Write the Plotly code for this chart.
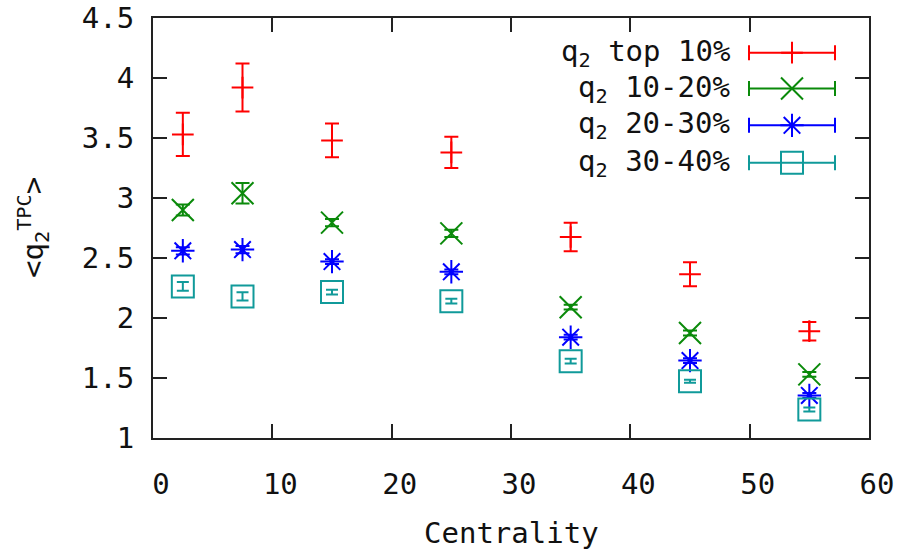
import plotly.graph_objects as go

# Centrality bins (%) and mean q2 (TPC) per q2 class, with statistical errors
centrality = [2.5, 7.5, 15, 25, 35, 45, 55]

q2_top10 = [3.53, 3.92, 3.48, 3.38, 2.675, 2.365, 1.89]
q2_top10_err = [0.18, 0.20, 0.14, 0.13, 0.118, 0.10, 0.077]

q2_10_20 = [2.90, 3.04, 2.795, 2.705, 2.09, 1.875, 1.53]
q2_10_20_err = [0.045, 0.085, 0.03, 0.03, 0.02, 0.02, 0.02]

q2_20_30 = [2.56, 2.57, 2.47, 2.385, 1.84, 1.645, 1.355]
q2_20_30_err = [0.03, 0.03, 0.02, 0.02, 0.02, 0.02, 0.02]

q2_30_40 = [2.263, 2.18, 2.216, 2.14, 1.64, 1.473, 1.237]
q2_30_40_err = [0.036, 0.035, 0.02, 0.02, 0.02, 0.012, 0.017]

labels = ["q<sub>2</sub> top 10%", "q<sub>2</sub> 10-20%",
          "q<sub>2</sub> 20-30%", "q<sub>2</sub> 30-40%"]

x_ticks = [0, 10, 20, 30, 40, 50, 60]
y_ticks = [1, 1.5, 2, 2.5, 3, 3.5, 4, 4.5]
y_tick_text = ["1", "1.5", "2", "2.5", "3", "3.5", "4", "4.5"]

FONT = "DejaVu Sans Mono"
FS = 29

styles = [
    dict(color="#ff0000", symbol="cross-thin", size=15.5, cap=7),
    dict(color="#0a8a0a", symbol="x-thin", size=22, cap=7),
    dict(color="#0000ff", symbol="asterisk", size=19.5, cap=7),
    dict(color="#109a9a", symbol="square-open", size=22, cap=6),
]
series = [
    (q2_top10, q2_top10_err),
    (q2_10_20, q2_10_20_err),
    (q2_20_30, q2_20_30_err),
    (q2_30_40, q2_30_40_err),
]

fig = go.Figure()

for (vals, errs), st in zip(series, styles):
    fig.add_trace(go.Scatter(
        x=centrality, y=vals, mode="markers",
        marker=dict(symbol=st["symbol"], size=st["size"], color=st["color"],
                    line=dict(color=st["color"], width=2)),
        error_y=dict(type="data", array=errs, visible=True,
                     color=st["color"], thickness=2, width=st["cap"]),
        showlegend=False, hoverinfo="skip",
    ))

# Key: sample error bar + symbol per series on a pixel-scaled overlay axis
key_rows = [52.7, 88.6, 125.5, 162.8]
key_cx = 792
key_half = 43
key_text_right = 732

for row, st, lab in zip(key_rows, styles, labels):
    fig.add_trace(go.Scatter(
        x=[key_cx], y=[row], xaxis="x2", yaxis="y2", mode="markers",
        marker=dict(symbol=st["symbol"], size=st["size"], color=st["color"],
                    line=dict(color=st["color"], width=2)),
        error_x=dict(type="constant", value=key_half, visible=True,
                     color=st["color"], thickness=2, width=7.5),
        showlegend=False, hoverinfo="skip",
    ))
    fig.add_annotation(x=key_text_right, y=row, xref="x2", yref="y2",
                       text=lab, showarrow=False, xanchor="right",
                       yanchor="middle", font=dict(family=FONT, size=FS, color="#111"))

L, R, T, B = 153, 43, 18, 111.5

axis_common = dict(
    showline=True, linecolor="#222", linewidth=2, mirror="ticks",
    ticks="inside", ticklen=14, tickwidth=2, tickcolor="#222",
    showgrid=False, zeroline=False, automargin=False,
    tickfont=dict(family=FONT, size=FS, color="#111"),
)

fig.update_layout(
    width=912, height=550,
    margin=dict(l=L, r=R, t=T, b=B),
    paper_bgcolor="white", plot_bgcolor="white",
    xaxis=dict(range=[0, 60], tickvals=x_ticks, ticklabelstandoff=19,
               ticklabelshift=8, **axis_common),
    yaxis=dict(range=[1, 4.5], tickvals=y_ticks, ticktext=y_tick_text,
               ticklabelstandoff=11, **axis_common),
    xaxis2=dict(overlaying="x", range=[L, 912 - R], visible=False, automargin=False),
    yaxis2=dict(overlaying="y", range=[550 - B, T], visible=False, automargin=False),
    showlegend=False,
)

fig.add_annotation(x=0.5, y=0, xref="paper", yref="paper",
                   text="Centrality", showarrow=False,
                   xanchor="center", yanchor="middle", yshift=-95,
                   font=dict(family=FONT, size=FS, color="#111"))
fig.add_annotation(x=0, y=0.5, xref="paper", yref="paper",
                   text="&lt;q<sub>2</sub><sup>TPC</sup>&gt;", showarrow=False,
                   textangle=-90, xanchor="center", yanchor="middle", xshift=-120,
                   font=dict(family=FONT, size=FS, color="#111"))

fig.write_html("out.html")
